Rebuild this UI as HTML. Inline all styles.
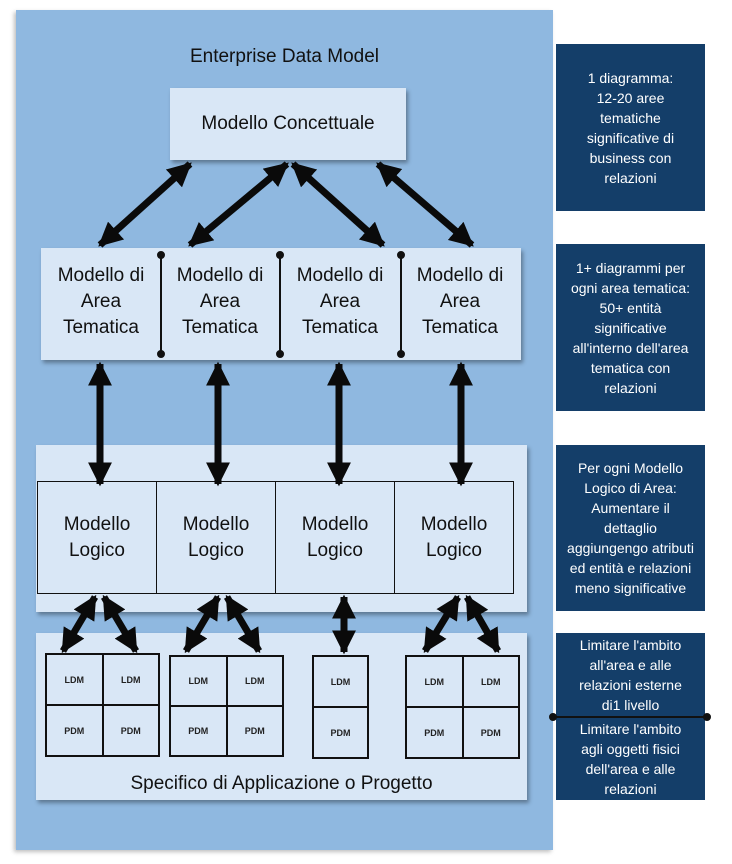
<!DOCTYPE html>
<html><head><style>
body{margin:0;width:732px;height:864px;background:#fff;position:relative;font-family:"Liberation Sans",sans-serif;overflow:hidden;color:#111}
.a{position:absolute;box-sizing:border-box}
.lt{background:#d9e7f6}
.sh{box-shadow:2px 3px 4px rgba(0,0,0,.35)}
.c{display:flex;align-items:center;justify-content:center;text-align:center}
.dk{background:#143e69;color:#fff;font-size:14px;line-height:20px;padding:0 16px}
.g{border:1px solid #111;background:#d9e7f6;display:grid;font-size:9px;font-weight:bold;color:#222}
.g div{display:flex;align-items:center;justify-content:center;border:0.5px solid #111}
</style></head><body>
<div class="a" style="left:16px;top:10px;width:537px;height:840px;background:#8fb8e0;box-shadow:-2px 2px 4px rgba(0,0,0,.25)"></div>
<div class="a c" style="left:16px;top:43px;width:537px;height:28px;font-size:19px">Enterprise Data Model</div>
<div class="a lt sh c" style="left:170px;top:88px;width:236px;height:72px;font-size:19px">Modello Concettuale</div>
<div class="a lt sh" style="left:41px;top:248px;width:480px;height:112px"></div>
<div class="a c" style="left:41px;top:263px;width:120px;font-size:19px;line-height:26px">Modello di<br>Area<br>Tematica</div>
<div class="a c" style="left:160px;top:263px;width:120px;font-size:19px;line-height:26px">Modello di<br>Area<br>Tematica</div>
<div class="a c" style="left:280px;top:263px;width:120px;font-size:19px;line-height:26px">Modello di<br>Area<br>Tematica</div>
<div class="a c" style="left:400px;top:263px;width:120px;font-size:19px;line-height:26px">Modello di<br>Area<br>Tematica</div>
<div class="a lt sh" style="left:36px;top:445px;width:491px;height:167px"></div>
<div class="a" style="left:37px;top:481px;width:477px;height:113px;border:1px solid #111;display:flex">
<div class="c" style="flex:1;border-right:1px solid #111;font-size:19px;line-height:26px">Modello<br>Logico</div>
<div class="c" style="flex:1;border-right:1px solid #111;font-size:19px;line-height:26px">Modello<br>Logico</div>
<div class="c" style="flex:1;border-right:1px solid #111;font-size:19px;line-height:26px">Modello<br>Logico</div>
<div class="c" style="flex:1;font-size:19px;line-height:26px">Modello<br>Logico</div></div>
<div class="a lt sh" style="left:36px;top:633px;width:491px;height:167px"></div>
<div class="a g" style="left:45px;top:653px;width:115px;height:104px;grid-template-columns:1fr 1fr"><div>LDM</div><div>LDM</div><div>PDM</div><div>PDM</div></div>
<div class="a g" style="left:169px;top:655px;width:115px;height:102px;grid-template-columns:1fr 1fr"><div>LDM</div><div>LDM</div><div>PDM</div><div>PDM</div></div>
<div class="a g" style="left:312px;top:655px;width:57px;height:104px;grid-template-columns:1fr"><div>LDM</div><div>PDM</div></div>
<div class="a g" style="left:405px;top:655px;width:115px;height:104px;grid-template-columns:1fr 1fr"><div>LDM</div><div>LDM</div><div>PDM</div><div>PDM</div></div>
<div class="a c" style="left:36px;top:770px;width:491px;height:28px;font-size:19px">Specifico di Applicazione o Progetto</div>
<div class="a dk c" style="left:556px;top:44px;width:149px;height:167px">1 diagramma:<br>12-20 aree tematiche significative di business con relazioni</div>
<div class="a dk c" style="left:556px;top:244px;width:149px;height:167px;padding:0 10px">1+ diagrammi per ogni area tematica: 50+ entità significative all'interno dell'area tematica con relazioni</div>
<div class="a dk c" style="left:556px;top:445px;width:149px;height:166px;padding:0 10px">Per ogni Modello Logico di Area: Aumentare il dettaglio aggiungengo atributi ed entità e relazioni meno significative</div>
<div class="a dk" style="left:556px;top:633px;width:149px;height:167px;text-align:center;padding:2px 12px 0">Limitare l'ambito all'area e alle relazioni esterne di1 livello<div style="height:4px"></div>Limitare l'ambito agli oggetti fisici dell'area e alle relazioni</div>
<svg class="a" style="left:0;top:0" width="732" height="864">
<defs><marker id="m" viewBox="0 0 10 10" refX="9" refY="5" markerWidth="24" markerHeight="24" markerUnits="userSpaceOnUse" orient="auto-start-reverse"><path d="M0,0L10,5L0,10z" fill="#0a0a0a"/></marker></defs>
<g stroke="#0a0a0a" stroke-width="7" marker-start="url(#m)" marker-end="url(#m)">
<line x1="190" y1="164" x2="100" y2="245"/>
<line x1="287" y1="164" x2="190" y2="245"/>
<line x1="293" y1="164" x2="383" y2="245"/>
<line x1="378" y1="164" x2="472" y2="245"/>
<line x1="100" y1="364" x2="100" y2="484"/>
<line x1="218" y1="364" x2="218" y2="484"/>
<line x1="339" y1="364" x2="339" y2="484"/>
<line x1="461" y1="364" x2="461" y2="484"/>
<line x1="95" y1="597" x2="63" y2="651"/>
<line x1="104" y1="597" x2="136" y2="651"/>
<line x1="218" y1="597" x2="186" y2="651"/>
<line x1="227" y1="597" x2="259" y2="651"/>
<line x1="344" y1="597" x2="344" y2="652"/>
<line x1="458" y1="597" x2="425" y2="651"/>
<line x1="467" y1="597" x2="498" y2="651"/>
</g>
<g stroke="#111" stroke-width="2" fill="#111">
<line x1="161" y1="255" x2="161" y2="354"/><circle cx="161" cy="255" r="3"/><circle cx="161" cy="354" r="3"/>
<line x1="280" y1="255" x2="280" y2="354"/><circle cx="280" cy="255" r="3"/><circle cx="280" cy="354" r="3"/>
<line x1="401" y1="255" x2="401" y2="354"/><circle cx="401" cy="255" r="3"/><circle cx="401" cy="354" r="3"/>
<line x1="553" y1="717" x2="707" y2="717"/><circle cx="553" cy="717" r="3"/><circle cx="707" cy="717" r="3"/>
</g></svg>
</body></html>
